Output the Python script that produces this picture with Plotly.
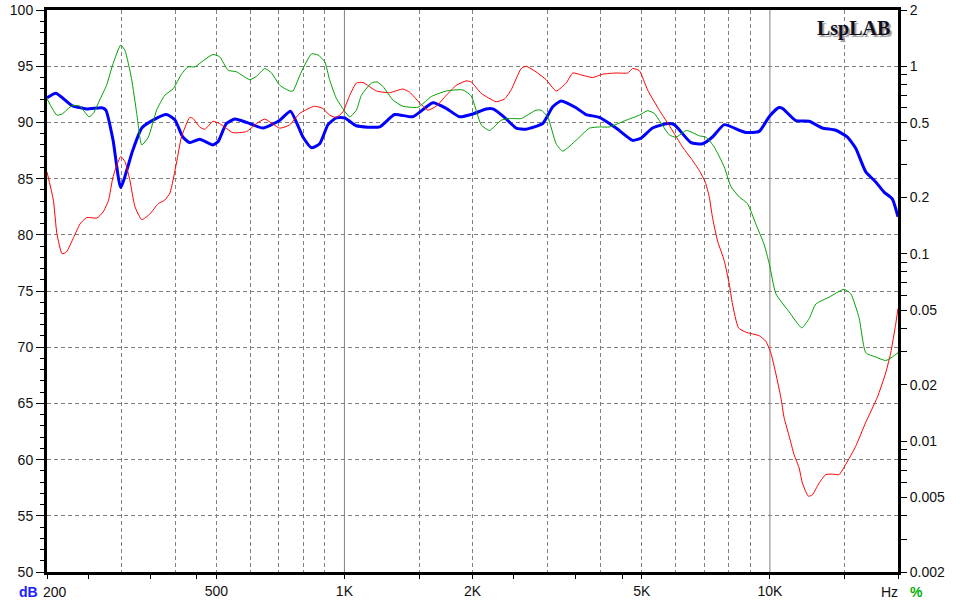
import plotly.graph_objects as go

# frequency response (dB, left axis)
blue_f = [200, 210, 229, 248, 269, 275, 286, 298, 318, 334, 355, 382, 400, 417, 433,
          457, 491, 505, 528, 553, 589, 644, 705, 747, 799, 837, 875, 915, 957, 1001,
          1067, 1210, 1312, 1448, 1614, 1735, 1864, 2003, 2154, 2232, 2378, 2532, 2674,
          2924, 3088, 3231, 3503, 3697, 3973, 4350, 4758, 4977, 5300, 5748, 5961, 6524,
          6945, 7330, 7808, 8472, 8783, 9436, 9960, 10470, 10700, 11510, 12360, 13280,
          14280, 15210, 15910, 16800, 17730, 18540, 19390, 20000]
blue_db = [92.2, 92.6, 91.5, 91.2, 91.3, 91.1, 88.4, 84.2, 87.5, 89.5, 90.2, 90.7, 90.2,
           88.7, 88.2, 88.5, 88.0, 88.3, 89.9, 90.3, 90.0, 89.5, 90.2, 91.0, 88.7, 87.75,
           88.1, 89.8, 90.4, 90.4, 89.7, 89.6, 90.7, 90.5, 91.75, 91.25, 90.5, 90.75,
           91.2, 91.2, 90.45, 89.5, 89.4, 89.9, 91.4, 91.9, 91.3, 90.7, 90.45, 89.5, 88.4,
           88.6, 89.5, 89.9, 89.8, 88.2, 88.1, 88.7, 89.8, 89.3, 89.1, 89.2, 90.5, 91.3,
           91.25, 90.15, 90.1, 89.5, 89.3, 88.7, 87.7, 85.6, 84.7, 83.8, 83.2, 81.6]

# distortion (%, right axis)
green_f = [200, 211, 217, 229, 239, 251, 257, 266, 276, 286, 298, 305, 316, 325, 334,
           346, 362, 378, 396, 414, 429, 445, 466, 491, 509, 533, 558, 599, 621, 650,
           674, 705, 744, 757, 792, 837, 867, 899, 923, 957, 1029, 1067, 1096, 1157,
           1193, 1232, 1300, 1372, 1488, 1600, 1735, 1898, 1986, 2096, 2192, 2336, 2443,
           2603, 2821, 2899, 3005, 3145, 3259, 3503, 3765, 3973, 4194, 4590, 4932, 5160,
           5348, 5801, 6016, 6371, 6825, 7075, 7400, 7808, 8098, 8472, 8858, 9268, 9692,
           9960, 10330, 11100, 11880, 12360, 12820, 13770, 14940, 15490, 16200, 16800,
           17730, 18710, 19390, 20000]
green_pct = [0.671, 0.549, 0.557, 0.617, 0.613, 0.538, 0.561, 0.662, 0.792, 1.036, 1.30,
             1.216, 0.860, 0.561, 0.381, 0.419, 0.584, 0.700, 0.760, 0.909, 0.994, 0.994,
             1.073, 1.158, 1.126, 0.954, 0.935, 0.849, 0.884, 0.974, 0.922, 0.792, 0.739,
             0.739, 0.935, 1.166, 1.15, 1.058, 0.849, 0.676, 0.538, 0.584, 0.700, 0.815,
             0.826, 0.781, 0.662, 0.613, 0.605, 0.690, 0.739, 0.749, 0.695, 0.488, 0.455,
             0.516, 0.527, 0.527, 0.584, 0.584, 0.538, 0.386, 0.353, 0.403, 0.468, 0.475,
             0.475, 0.516, 0.549, 0.58, 0.561, 0.431, 0.419, 0.455, 0.426, 0.419, 0.371,
             0.291, 0.228, 0.201, 0.185, 0.144, 0.112, 0.0889, 0.0611, 0.0489, 0.0402,
             0.0450, 0.0539, 0.0586, 0.0646, 0.0611, 0.0456, 0.0296, 0.0281, 0.0269,
             0.0281, 0.0296]

red_f = [200, 207, 211, 217, 222, 231, 239, 248, 262, 271, 279, 286, 298, 305, 313, 322,
         334, 349, 365, 378, 389, 403, 414, 433, 441, 457, 470, 491, 509, 547, 589, 621,
         650, 705, 744, 785, 851, 890, 923, 957, 992, 1029, 1067, 1106, 1189, 1277, 1372,
         1423, 1502, 1571, 1643, 1735, 1831, 1933, 1986, 2096, 2273, 2378, 2465, 2603,
         2674, 2821, 2979, 3145, 3320, 3441, 3631, 3833, 4046, 4350, 4631, 4758, 4932,
         5158, 5496, 5853, 6234, 6524, 6825, 7048, 7203, 7330, 7533, 7808, 8023, 8166,
         8436, 8783, 9436, 9782, 10050, 10330, 10610, 10800, 11100, 11400, 11710, 11920,
         12310, 12580, 13050, 13530, 14020, 14540, 15070, 15910, 16800, 17880, 18710,
         19230, 19750, 20000]
red_pct = [0.273, 0.193, 0.128, 0.100, 0.102, 0.122, 0.144, 0.156, 0.155, 0.167, 0.193,
           0.258, 0.330, 0.310, 0.248, 0.178, 0.152, 0.163, 0.185, 0.193, 0.211, 0.305,
           0.419, 0.534, 0.527, 0.475, 0.462, 0.509, 0.495, 0.443, 0.449, 0.495, 0.523,
           0.468, 0.488, 0.561, 0.613, 0.596, 0.549, 0.534, 0.572, 0.700, 0.815, 0.820,
           0.739, 0.724, 0.757, 0.729, 0.639, 0.584, 0.613, 0.700, 0.792, 0.837, 0.826,
           0.719, 0.648, 0.670, 0.749, 0.974, 1.001, 0.935, 0.849, 0.739, 0.815, 0.922,
           0.896, 0.872, 0.909, 0.922, 0.922, 0.974, 0.95, 0.749, 0.584, 0.468, 0.371,
           0.323, 0.278, 0.241, 0.201, 0.156, 0.117, 0.0919, 0.0691, 0.0539, 0.0402,
           0.0381, 0.0365, 0.0341, 0.0296, 0.0228, 0.0171, 0.0133, 0.0106, 0.00845,
           0.0072, 0.00597, 0.00508, 0.00516, 0.00597, 0.00662, 0.00666, 0.00662, 0.0075,
           0.00938, 0.0126, 0.0171, 0.0231, 0.0296, 0.0420, 0.0510]

# axis ticks
x_tick_vals = [200, 250, 350, 450, 500, 1000, 1500, 2000, 2500, 3500, 4500, 5000,
               10000, 15000, 20000]
x_tick_text = ['', '', '', '', '500', '1K', '', '2K', '', '', '', '5K', '10K', '', '']
x_grid_vals = [300, 400, 500, 600, 700, 800, 900, 1500, 2000, 3000, 4000, 5000, 6000,
               7000, 8000, 9000, 15000]
x_solid_vals = [1000, 10000]
pct_major = [0.002, 0.005, 0.01, 0.02, 0.05, 0.1, 0.2, 0.5, 1, 2]
pct_minor = [0.003, 0.004, 0.006, 0.007, 0.008, 0.009, 0.03, 0.04, 0.06, 0.07, 0.08,
             0.09, 0.3, 0.4, 0.6, 0.7, 0.8, 0.9]

FONT = 'Liberation Sans, Arial, sans-serif'
GRID = '#808080'

fig = go.Figure()
fig.add_trace(go.Scatter(x=red_f, y=red_pct, yaxis='y2', mode='lines',
                         line=dict(color='#ff0000', width=1, shape='spline', smoothing=0.5)))
fig.add_trace(go.Scatter(x=green_f, y=green_pct, yaxis='y2', mode='lines',
                         line=dict(color='#00a000', width=1, shape='spline', smoothing=0.5)))
fig.add_trace(go.Scatter(x=blue_f, y=blue_db, mode='lines',
                         line=dict(color='#0000ff', width=3, shape='spline', smoothing=0.5)))

for v in x_solid_vals:
    fig.add_shape(type='line', xref='x', yref='paper', x0=v, x1=v, y0=0, y1=1,
                  line=dict(color=GRID, width=1), layer='below')

pct_vals = pct_major + pct_minor
pct_text = [('%g' % v) for v in pct_major] + [''] * len(pct_minor)

fig.update_layout(
    width=979, height=602,
    margin=dict(l=47, r=81, t=10, b=30),
    paper_bgcolor='white', plot_bgcolor='white',
    showlegend=False,
    font=dict(family=FONT, size=14, color='#111111'),
    xaxis=dict(
        type='log', range=[2.30103, 4.30103], automargin=False,
        tickvals=x_tick_vals, ticktext=x_tick_text,
        ticks='outside', ticklen=4, tickcolor='black', tickwidth=1,
        showgrid=False, zeroline=False,
        showline=True, linecolor='black', linewidth=3, mirror=True,
        minor=dict(tickvals=x_grid_vals, ticks='', showgrid=True,
                   gridcolor=GRID, gridwidth=1, griddash='4px,3px'),
    ),
    yaxis=dict(
        range=[50, 100], dtick=5, tick0=50, automargin=False,
        ticks='outside', ticklen=8, tickcolor='black', tickwidth=1,
        showgrid=True, gridcolor=GRID, gridwidth=1, griddash='4px,3px',
        zeroline=False,
        showline=True, linecolor='black', linewidth=3, mirror=True,
        minor=dict(dtick=1, ticks='outside', ticklen=4, tickcolor='black',
                   showgrid=False),
    ),
    yaxis2=dict(
        type='log', range=[-2.69897, 0.30103], overlaying='y', side='right',
        anchor='x', tickvals=pct_vals, ticktext=pct_text, automargin=False,
        ticks='outside', ticklen=8, tickcolor='black', tickwidth=1,
        showgrid=False, zeroline=False, showline=False,
    ),
)

# labels drawn as annotations
W, H = 851.0, 562.0
def px(xp):
    return (xp - 47) / W
def py(yp):
    return (572 - yp) / H

notes = [
    ('dB', 28, 592, '#2020ff', True),
    ('200', 55, 592, '#111111', False),
    ('Hz', 889, 592, '#111111', False),
    ('%', 916, 592, '#00b000', True),
]
for txt, xp, yp, col, bold in notes:
    fig.add_annotation(text='<b>%s</b>' % txt if bold else txt, xref='paper', yref='paper',
                       x=px(xp), y=py(yp), xanchor='center', yanchor='middle',
                       showarrow=False, font=dict(family=FONT, size=14, color=col))

# LspLAB logo with a soft shadow
fig.add_annotation(text='<b>LspLAB</b>', xref='paper', yref='paper',
                   x=px(853), y=py(28), xanchor='center', yanchor='middle',
                   showarrow=False,
                   font=dict(family='Liberation Serif, Times New Roman, serif',
                             size=20, color='#101020', shadow='2px 2px 1px #9a9a9a'))

# page body margin would shift the figure, so drop it
fig.write_html('out.html', config={'displayModeBar': False},
               post_script="document.body.style.margin='0';")
